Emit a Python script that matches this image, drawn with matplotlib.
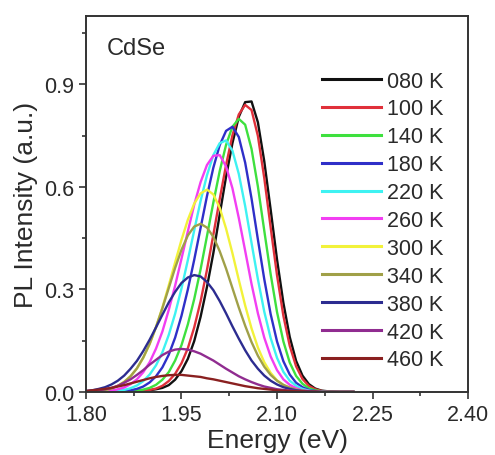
import matplotlib
matplotlib.use("Agg")
import matplotlib.pyplot as plt
from matplotlib.ticker import MultipleLocator, FormatStrFormatter

plt.rcParams["font.family"] = ["Liberation Sans", "DejaVu Sans"]

energy = [1.80, 1.81, 1.82, 1.83, 1.84, 1.85, 1.86, 1.87, 1.88, 1.89,
          1.90, 1.91, 1.92, 1.93, 1.94, 1.95, 1.96, 1.97, 1.98, 1.99,
          2.00, 2.01, 2.02, 2.03, 2.04, 2.05, 2.06, 2.07, 2.08, 2.09,
          2.10, 2.11, 2.12, 2.13, 2.14, 2.15, 2.16, 2.17, 2.18, 2.19,
          2.20, 2.21, 2.22]

i080 = [0.002, 0.002, 0.002, 0.002, 0.002, 0.002, 0.002, 0.003, 0.003, 0.004,
        0.005, 0.008, 0.012, 0.020, 0.036, 0.061, 0.097, 0.149, 0.220, 0.307,
        0.406, 0.519, 0.630, 0.728, 0.805, 0.848, 0.850, 0.789, 0.675, 0.534,
        0.388, 0.261, 0.161, 0.091, 0.048, 0.023, 0.010, 0.004, 0.002, 0.001,
        0.0, 0.0, 0.0]
i100 = [0.002, 0.002, 0.002, 0.002, 0.002, 0.002, 0.002, 0.003, 0.003, 0.004,
        0.006, 0.010, 0.018, 0.032, 0.053, 0.084, 0.128, 0.189, 0.265, 0.357,
        0.460, 0.564, 0.664, 0.751, 0.812, 0.840, 0.825, 0.749, 0.626, 0.482,
        0.342, 0.223, 0.135, 0.075, 0.038, 0.018, 0.008, 0.003, 0.001, 0.0,
        0.0, 0.0, 0.0]
i140 = [0.002, 0.002, 0.002, 0.002, 0.002, 0.002, 0.003, 0.003, 0.004, 0.007,
        0.012, 0.021, 0.036, 0.058, 0.092, 0.137, 0.198, 0.272, 0.359, 0.456,
        0.554, 0.646, 0.723, 0.776, 0.799, 0.782, 0.711, 0.601, 0.472, 0.345,
        0.234, 0.148, 0.086, 0.047, 0.024, 0.011, 0.005, 0.002, 0.001, 0.0,
        0.0, 0.0, 0.0]
i180 = [0.002, 0.002, 0.002, 0.002, 0.003, 0.003, 0.003, 0.005, 0.009, 0.016,
        0.028, 0.046, 0.072, 0.109, 0.159, 0.223, 0.300, 0.387, 0.480, 0.573,
        0.656, 0.722, 0.764, 0.776, 0.746, 0.671, 0.566, 0.446, 0.330, 0.228,
        0.148, 0.090, 0.051, 0.027, 0.014, 0.006, 0.003, 0.001, 0.0, 0.0,
        0.0, 0.0, 0.0]
i220 = [0.002, 0.002, 0.002, 0.002, 0.002, 0.003, 0.006, 0.011, 0.019, 0.032,
        0.051, 0.078, 0.116, 0.167, 0.229, 0.303, 0.386, 0.473, 0.559, 0.634,
        0.693, 0.728, 0.736, 0.706, 0.638, 0.544, 0.436, 0.330, 0.235, 0.158,
        0.100, 0.059, 0.033, 0.018, 0.009, 0.004, 0.002, 0.001, 0.0, 0.0,
        0.0, 0.0, 0.0]
i260 = [0.002, 0.002, 0.002, 0.002, 0.004, 0.008, 0.013, 0.023, 0.037, 0.058,
        0.087, 0.127, 0.177, 0.240, 0.311, 0.390, 0.470, 0.548, 0.614, 0.664,
        0.691, 0.693, 0.660, 0.596, 0.509, 0.413, 0.316, 0.230, 0.159, 0.104,
        0.064, 0.037, 0.021, 0.011, 0.005, 0.003, 0.001, 0.0, 0.0, 0.0,
        0.0, 0.0, 0.0]
i300 = [0.002, 0.002, 0.004, 0.006, 0.011, 0.018, 0.030, 0.046, 0.069, 0.100,
        0.140, 0.190, 0.247, 0.312, 0.379, 0.445, 0.504, 0.551, 0.581, 0.592,
        0.578, 0.539, 0.478, 0.406, 0.328, 0.253, 0.186, 0.130, 0.087, 0.056,
        0.034, 0.020, 0.011, 0.006, 0.003, 0.001, 0.0, 0.0, 0.0, 0.0,
        0.0, 0.0, 0.0]
i340 = [0.002, 0.002, 0.003, 0.006, 0.010, 0.018, 0.029, 0.046, 0.069, 0.101,
        0.141, 0.190, 0.245, 0.304, 0.363, 0.416, 0.458, 0.484, 0.492, 0.481,
        0.454, 0.412, 0.361, 0.304, 0.247, 0.194, 0.146, 0.106, 0.074, 0.050,
        0.033, 0.021, 0.013, 0.007, 0.004, 0.002, 0.001, 0.0, 0.0, 0.0,
        0.0, 0.0, 0.0]
i380 = [0.003, 0.005, 0.009, 0.014, 0.022, 0.033, 0.048, 0.068, 0.091, 0.120,
        0.153, 0.189, 0.226, 0.262, 0.293, 0.319, 0.335, 0.342, 0.338, 0.322,
        0.298, 0.266, 0.230, 0.192, 0.156, 0.122, 0.092, 0.068, 0.048, 0.033,
        0.022, 0.014, 0.009, 0.005, 0.003, 0.002, 0.001, 0.0, 0.0, 0.0,
        0.0, 0.0, 0.0]
i420 = [0.002, 0.003, 0.005, 0.008, 0.012, 0.018, 0.027, 0.037, 0.050, 0.064,
        0.080, 0.094, 0.108, 0.118, 0.124, 0.126, 0.124, 0.119, 0.112, 0.102,
        0.092, 0.080, 0.068, 0.057, 0.046, 0.037, 0.029, 0.022, 0.016, 0.012,
        0.008, 0.006, 0.004, 0.003, 0.002, 0.001, 0.001, 0.0, 0.0, 0.0,
        0.0, 0.0, 0.0]
i460 = [0.003, 0.005, 0.007, 0.009, 0.012, 0.016, 0.020, 0.025, 0.030, 0.035,
        0.040, 0.044, 0.047, 0.049, 0.050, 0.050, 0.048, 0.046, 0.044, 0.040,
        0.037, 0.033, 0.029, 0.025, 0.021, 0.017, 0.014, 0.011, 0.009, 0.007,
        0.005, 0.004, 0.003, 0.002, 0.002, 0.001, 0.001, 0.0, 0.0, 0.0,
        0.0, 0.0, 0.0]

labels = ["080 K", "100 K", "140 K", "180 K", "220 K", "260 K",
          "300 K", "340 K", "380 K", "420 K", "460 K"]
series = [i080, i100, i140, i180, i220, i260, i300, i340, i380, i420, i460]
colors = ["#111111", "#e0303a", "#3ee03e", "#2f2fc8", "#3ef2f2", "#f23ef2",
          "#f2f23a", "#a0a048", "#2c2c90", "#902c90", "#8a2020"]

fig = plt.figure(figsize=(4.95, 4.56), dpi=100)
ax = fig.add_axes([0.1737, 0.1382, 0.7718, 0.8245])

for y, lab, c in zip(series, labels, colors):
    ax.plot(energy, y, color=c, lw=1.7, label=lab)

ax.set_xlim(1.80, 2.40)
ax.set_ylim(0.0, 1.1)
ax.xaxis.set_major_locator(MultipleLocator(0.15))
ax.xaxis.set_minor_locator(MultipleLocator(0.075))
ax.yaxis.set_major_locator(MultipleLocator(0.3))
ax.yaxis.set_minor_locator(MultipleLocator(0.15))
ax.xaxis.set_major_formatter(FormatStrFormatter("%.2f"))
ax.yaxis.set_major_formatter(FormatStrFormatter("%.1f"))

txt = "#2a2a2a"
for s in ax.spines.values():
    s.set_linewidth(1.4)
    s.set_color("#333333")
ax.tick_params(which="both", direction="out", top=False, right=False,
               colors="#333333", labelcolor=txt, labelsize=15.5, width=1.2)
ax.tick_params(which="major", length=5)
ax.tick_params(which="minor", length=3)

ax.set_xlabel("Energy (eV)", fontsize=19, color=txt, labelpad=2)
ax.set_ylabel("PL Intensity (a.u.)", fontsize=19, color=txt, labelpad=4)

ax.text(0.055, 0.945, "CdSe", transform=ax.transAxes, fontsize=17,
        color=txt, ha="left", va="top")

leg = ax.legend(loc="upper right", bbox_to_anchor=(0.935, 0.855), frameon=False,
                fontsize=15.5, handlelength=2.75, handletextpad=0.25,
                labelspacing=0.32, borderpad=0, borderaxespad=0)
for t in leg.get_texts():
    t.set_color(txt)
for h in leg.get_lines():
    h.set_linewidth(2.2)

fig.savefig("out.png", dpi=100)
